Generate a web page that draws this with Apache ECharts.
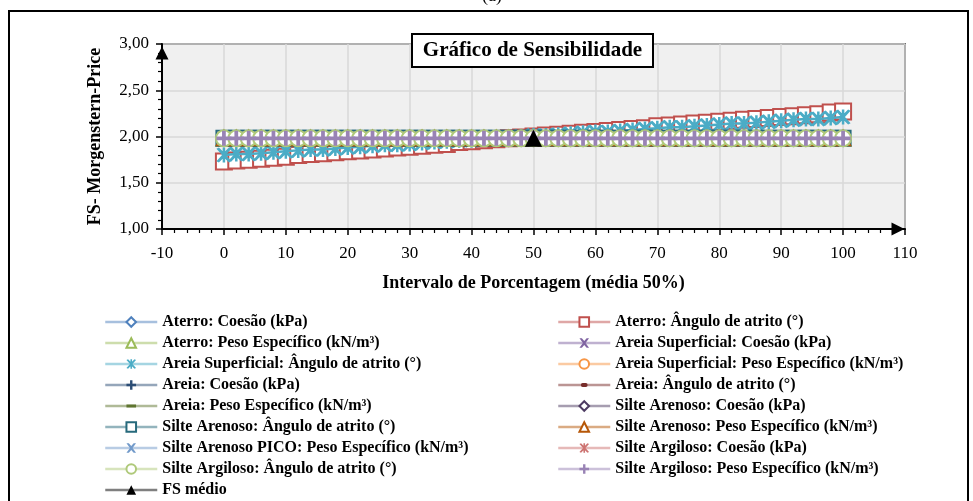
<!DOCTYPE html>
<html>
<head>
<meta charset="utf-8">
<script src="https://cdn.jsdelivr.net/npm/echarts@6/dist/echarts.min.js"></script>
<style>
html,body{margin:0;padding:0;background:#fff;}
#chart{width:973px;height:501px;}
</style>
</head>
<body>
<div id="chart"></div>
<script>
// ---- Data ----
const xValues = [0,2,4,6,8,10,12,14,16,18,20,22,24,26,28,30,32,34,36,38,40,42,44,46,48,50,52,54,56,58,60,62,64,66,68,70,72,74,76,78,80,82,84,86,88,90,92,94,96,98,100];
const flatFS = [1.98,1.98,1.98,1.98,1.98,1.98,1.98,1.98,1.98,1.98,1.98,1.98,1.98,1.98,1.98,1.98,1.98,1.98,1.98,1.98,1.98,1.98,1.98,1.98,1.98,1.98,1.98,1.98,1.98,1.98,1.98,1.98,1.98,1.98,1.98,1.98,1.98,1.98,1.98,1.98,1.98,1.98,1.98,1.98,1.98,1.98,1.98,1.98,1.98,1.98,1.98];
const aterroAnguloFS = [1.73,1.74,1.75,1.76,1.77,1.78,1.80,1.81,1.82,1.83,1.84,1.85,1.86,1.87,1.88,1.89,1.90,1.91,1.92,1.94,1.95,1.96,1.97,1.98,1.99,2.00,2.01,2.02,2.03,2.04,2.05,2.06,2.07,2.08,2.09,2.11,2.12,2.13,2.14,2.15,2.16,2.17,2.18,2.19,2.20,2.21,2.22,2.23,2.24,2.26,2.27];
const areiaSupAnguloFS = [1.80,1.81,1.81,1.82,1.83,1.84,1.85,1.86,1.86,1.87,1.88,1.89,1.90,1.91,1.91,1.92,1.93,1.94,1.95,1.96,1.96,1.97,1.98,1.99,2.00,2.01,2.01,2.02,2.03,2.04,2.05,2.05,2.06,2.07,2.08,2.09,2.10,2.10,2.11,2.12,2.13,2.14,2.14,2.15,2.16,2.17,2.18,2.19,2.19,2.20,2.21];
const fsMedioX = [50];
const fsMedioY = [1.98];
const xTicks = {min: -10, max: 110, interval: 10};
const yTicks = {min: 1, max: 3, interval: 0.5};

const seriesNames = [
  'Aterro: Coesão (kPa)',
  'Aterro: Ângulo de atrito (°)',
  'Aterro: Peso Específico (kN/m³)',
  'Areia Superficial: Coesão (kPa)',
  'Areia Superficial: Ângulo de atrito (°)',
  'Areia Superficial: Peso Específico (kN/m³)',
  'Areia: Coesão (kPa)',
  'Areia: Ângulo de atrito (°)',
  'Areia: Peso Específico (kN/m³)',
  'Silte Arenoso: Coesão (kPa)',
  'Silte Arenoso: Ângulo de atrito (°)',
  'Silte Arenoso: Peso Específico (kN/m³)',
  'Silte Arenoso PICO: Peso Específico (kN/m³)',
  'Silte Argiloso: Coesão (kPa)',
  'Silte Argiloso: Ângulo de atrito (°)',
  'Silte Argiloso: Peso Específico (kN/m³)'
];
const seriesValues = [
  flatFS, aterroAnguloFS, flatFS, flatFS, areiaSupAnguloFS, flatFS, flatFS, flatFS,
  flatFS, flatFS, flatFS, flatFS, flatFS, flatFS, flatFS, flatFS
];
const fsMedioName = 'FS médio';

// ---- Styles ----
const X_PATH = 'path://M0,0 L3,0 L6,3.6 L9,0 L12,0 L7.6,6 L12,12 L9,12 L6,8.4 L3,12 L0,12 L4.4,6 Z';
const STAR_PATH = 'path://M0,1 L2,0 L6,4 L10,0 L12,1 L7.5,6 L12,11 L10,12 L6,8 L2,12 L0,11 L4.5,6 Z M5,0 L7,0 L7,12 L5,12 Z';
const PLUS_PATH = 'path://M4.5,0 L7.5,0 L7.5,4.5 L12,4.5 L12,7.5 L7.5,7.5 L7.5,12 L4.5,12 L4.5,7.5 L0,7.5 L0,4.5 L4.5,4.5 Z';
const DASH_PATH = 'path://M0,0 L0.01,0 L0,0.01 Z M12,12 L11.99,12 L12,11.99 Z M0,4 L12,4 L12,8 L0,8 Z';
const DOT_PATH = 'path://M0,0 L0.01,0 L0,0.01 Z M12,12 L11.99,12 L12,11.99 Z M4,3.6 L8,3.6 Q10.2,3.6 10.2,6 Q10.2,8.4 8,8.4 L4,8.4 Q1.8,8.4 1.8,6 Q1.8,3.6 4,3.6 Z';
const UP_TRI = 'path://M5,0 L10,10 L0,10 Z';
const styles = [
  {c:'#4F81BD', s:'emptyDiamond', size:15},
  {c:'#C0504D', s:'emptyRect', size:16},
  {c:'#9BBB59', s:'emptyTriangle', size:15},
  {c:'#8064A2', s:X_PATH, size:13},
  {c:'#4BACC6', s:STAR_PATH, size:15},
  {c:'#F79646', s:'emptyCircle', size:15},
  {c:'#2C4D75', s:PLUS_PATH, size:14},
  {c:'#772C2A', s:DOT_PATH, size:13},
  {c:'#5F7530', s:DASH_PATH, size:15},
  {c:'#4D3B62', s:'emptyDiamond', size:15},
  {c:'#276A7C', s:'emptyRect', size:15},
  {c:'#B65708', s:'emptyTriangle', size:14},
  {c:'#729ACA', s:X_PATH, size:13},
  {c:'#CD7371', s:STAR_PATH, size:14},
  {c:'#AFC97A', s:'emptyCircle', size:16},
  {c:'#9983B5', s:PLUS_PATH, size:15}
];

const FONT = "'Times New Roman', 'Liberation Serif', serif";

const series = seriesNames.map(function (name, k) {
  const st = styles[k];
  const isEmpty = typeof st.s === 'string' && st.s.indexOf('empty') === 0;
  return {
    name: name,
    type: 'line',
    data: xValues.map(function (x, i) { return [x, seriesValues[k][i]]; }),
    symbol: st.s,
    symbolSize: st.size,
    showSymbol: true,
    color: st.c,
    lineStyle: {color: st.c, width: 2.5},
    itemStyle: isEmpty ? {color: st.c, borderWidth: 2.5} : {color: st.c, borderWidth: 0},
    emphasis: {disabled: true},
    animation: false,
    z: 2 + k * 0.01
  };
});
series.push({
  name: fsMedioName,
  type: 'line',
  data: fsMedioX.map(function (x, i) { return [x, fsMedioY[i]]; }),
  symbol: 'triangle',
  symbolSize: 17,
  color: '#000',
  lineStyle: {color: '#000', width: 2.5},
  itemStyle: {color: '#000'},
  emphasis: {disabled: true},
  animation: false,
  z: 3
});

const leftLegend = [];
const rightLegend = [];
seriesNames.forEach(function (n, i) { (i % 2 === 0 ? leftLegend : rightLegend).push(n); });
leftLegend.push(fsMedioName);

const legendCommon = {
  orient: 'vertical',
  top: 314,
  itemWidth: 52,
  itemHeight: 12,
  itemGap: 5,
  selectedMode: false,
  padding: 0,
  textStyle: {fontFamily: FONT, fontWeight: 'bold', fontSize: 16, color: '#000'},
  lineStyle: {width: 2.5, opacity: 0.5}
};

const chart = echarts.init(document.getElementById('chart'), null, {renderer: 'canvas'});
chart.setOption({
  backgroundColor: '#fff',
  animation: false,
  grid: {
    left: 162, right: 68, top: 44, bottom: 272,
    show: true, backgroundColor: '#f0f0f0', borderColor: '#000', borderWidth: 1.5,
    containLabel: false
  },
  xAxis: {
    type: 'value',
    min: xTicks.min, max: xTicks.max, interval: xTicks.interval,
    name: 'Intervalo de Porcentagem (média 50%)',
    nameLocation: 'middle',
    nameGap: 45,
    nameTextStyle: {fontFamily: FONT, fontWeight: 'bold', fontSize: 18, color: '#000'},
    axisLine: {show: true, onZero: false, lineStyle: {color: '#000', width: 2},
      symbol: ['none', UP_TRI], symbolSize: [13, 15], symbolOffset: [0, -7]},
    axisTick: {show: true, length: 6, lineStyle: {color: '#000', width: 1.5}},
    minorTick: {show: true, splitNumber: 5, length: 4, lineStyle: {color: '#000', width: 1.2}},
    axisLabel: {fontFamily: FONT, fontSize: 17, color: '#000', margin: 16},
    splitLine: {show: true, lineStyle: {color: '#d9d9d9', width: 1.5}}
  },
  yAxis: {
    type: 'value',
    min: yTicks.min, max: yTicks.max, interval: yTicks.interval,
    name: 'FS- Morgenstern-Price',
    nameLocation: 'middle',
    nameGap: 58,
    nameTextStyle: {fontFamily: FONT, fontWeight: 'bold', fontSize: 18, color: '#000'},
    axisLine: {show: true, onZero: false, lineStyle: {color: '#000', width: 2},
      symbol: ['none', UP_TRI], symbolSize: [13, 14], symbolOffset: [0, -9]},
    axisTick: {show: true, length: 6, lineStyle: {color: '#000', width: 1.5}},
    minorTick: {show: true, splitNumber: 5, length: 4, lineStyle: {color: '#000', width: 1.2}},
    axisLabel: {fontFamily: FONT, fontSize: 17, color: '#000', margin: 13,
      formatter: function (v) { return v.toFixed(2).replace('.', ','); }},
    splitLine: {show: true, lineStyle: {color: '#d9d9d9', width: 1.5}}
  },
  legend: [
    Object.assign({}, legendCommon, {left: 104, data: leftLegend}),
    Object.assign({}, legendCommon, {left: 557, data: rightLegend})
  ],
  graphic: [
    {type: 'rect', shape: {x: 9, y: 11, width: 959, height: 510}, style: {fill: 'none', stroke: '#000', lineWidth: 2}, z: 100},
    {type: 'text', x: 492, y: -4, style: {text: '(a)', font: '18px ' + FONT, fill: '#000', textAlign: 'center', textVerticalAlign: 'middle'}, z: 100},
    {type: 'rect', shape: {x: 412, y: 34, width: 241, height: 33}, style: {fill: '#fff', stroke: '#000', lineWidth: 2}, z: 100},
    {type: 'text', x: 532.5, y: 51, style: {text: 'Gráfico de Sensibilidade', font: 'bold 21px ' + FONT, fill: '#000', textAlign: 'center', textVerticalAlign: 'middle'}, z: 101}
  ],
  series: series
});
</script>
</body>
</html>
